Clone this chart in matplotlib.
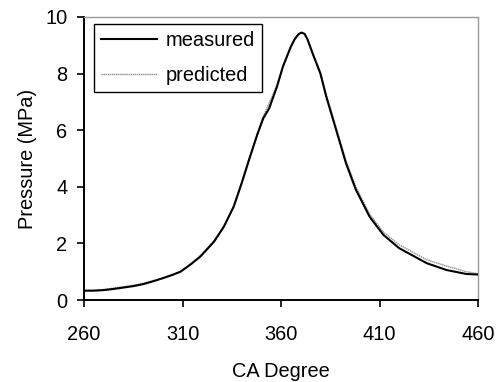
import matplotlib
matplotlib.use("Agg")
import matplotlib.pyplot as plt

plt.rcParams['font.family'] = ['Liberation Sans', 'DejaVu Sans']

ca_deg = [260, 265, 270, 275, 280, 285, 290, 295, 300, 305, 309, 314, 319, 326,
          331, 336, 340, 344, 348, 351, 354, 358, 361, 365, 367, 369, 370.5, 372,
          373.5, 376, 380, 383, 386.5, 390, 393, 398, 405, 412, 420, 434, 444,
          454, 460]
measured = [0.33, 0.33, 0.35, 0.39, 0.44, 0.49, 0.56, 0.66, 0.77, 0.89, 1.0, 1.25,
            1.53, 2.06, 2.59, 3.3, 4.12, 5.0, 5.85, 6.42, 6.77, 7.55, 8.25, 8.95,
            9.22, 9.4, 9.45, 9.4, 9.2, 8.72, 8.0, 7.18, 6.36, 5.54, 4.83, 3.9,
            2.94, 2.3, 1.83, 1.3, 1.06, 0.92, 0.9]
predicted = [0.33, 0.34, 0.37, 0.42, 0.47, 0.52, 0.59, 0.68, 0.78, 0.9, 1.01, 1.27,
             1.57, 2.1, 2.62, 3.33, 4.15, 5.05, 5.9, 6.5, 6.95, 7.6, 8.28, 8.98,
             9.24, 9.41, 9.45, 9.41, 9.22, 8.76, 8.05, 7.25, 6.45, 5.62, 4.92,
             4.0, 3.03, 2.4, 1.95, 1.42, 1.2, 1.0, 0.93]

x_ticks = [260, 310, 360, 410, 460]
y_ticks = [0, 2, 4, 6, 8, 10]

FS = 14.4

fig = plt.figure(figsize=(4.96, 3.82), dpi=100)
ax = fig.add_axes([84/496, 1 - 300/382, (478-84)/496, (300-17)/382])

ax.plot(ca_deg, predicted, color='#8c8c8c', lw=1.0, ls=(0, (1, 0.5)), label='predicted', zorder=2)
ax.plot(ca_deg, measured, color='black', lw=1.5, label='measured', zorder=3)

ax.set_xlim(260, 460)
ax.set_ylim(0, 10)
ax.set_xticks(x_ticks)
ax.set_yticks(y_ticks)
ax.tick_params(axis='both', direction='out', length=5, width=1.2, labelsize=FS,
               color='black')
ax.tick_params(axis='x', pad=13)
ax.tick_params(axis='y', pad=7)
for s in ['left', 'bottom']:
    ax.spines[s].set_color('black')
    ax.spines[s].set_linewidth(1.4)
for s in ['top', 'right']:
    ax.spines[s].set_color('#999999')
    ax.spines[s].set_linewidth(1.0)

ax.set_xlabel('CA Degree', fontsize=FS, labelpad=13)
ax.set_ylabel('Pressure (MPa)', fontsize=FS, labelpad=6)

handles, labels = ax.get_legend_handles_labels()
order = [1, 0]
leg = ax.legend([handles[i] for i in order], [labels[i] for i in order],
                loc='upper left', bbox_to_anchor=(10/394, 1 - 7/283),
                fontsize=FS, frameon=True, fancybox=False, borderaxespad=0,
                handlelength=2.8, handletextpad=0.42, labelspacing=0.8,
                borderpad=0.35)
leg.get_frame().set_edgecolor('black')
leg.get_frame().set_linewidth(1.0)
leg.get_frame().set_alpha(1)

fig.savefig('out.png', dpi=100)
